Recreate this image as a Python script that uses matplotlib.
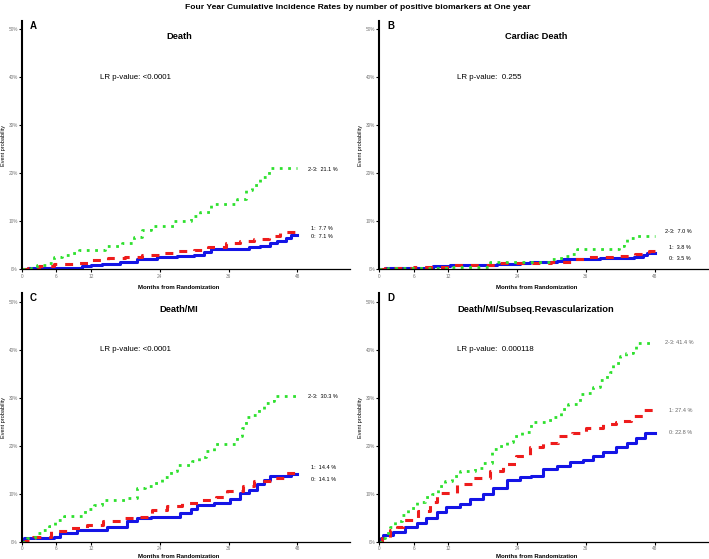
import matplotlib
matplotlib.use("Agg")
import matplotlib.pyplot as plt

plt.rcParams["font.family"] = ["Liberation Sans", "DejaVu Sans"]

BLUE = "#1414E6"
RED = "#EE1C1C"
GREEN = "#2EE02E"

# ---- data (months, cumulative incidence %) ----
death_t0 = [0, 1, 10.4, 12, 14, 17, 20, 23.5, 27, 30, 31.8, 33, 39.6, 41.5, 43.2, 44.4, 46, 46.8, 48]
death_y0 = [0, 0.2, 0.8, 1.0, 1.2, 1.5, 2.2, 2.5, 2.9, 3.1, 3.7, 4.3, 4.6, 4.9, 5.5, 6.0, 6.5, 7.1, 7.1]
death_t1 = [0, 1, 3, 5.5, 9, 12, 15, 18, 21, 24, 26.5, 30, 32.5, 35.5, 38, 40.5, 43, 45, 48]
death_y1 = [0, 0.2, 0.7, 1.1, 1.3, 2.0, 2.4, 2.6, 3.0, 3.4, 3.8, 4.0, 4.6, 5.6, 6.0, 6.4, 6.9, 7.7, 7.7]
death_t23 = [0, 1.5, 2.7, 4.5, 5.5, 7, 8.5, 10, 14.5, 17.5, 19.5, 21, 22.5, 26.5, 29.5, 31, 33,
             37.5, 39, 40, 41.5, 43, 48]
death_y23 = [0, 0.3, 0.9, 1.4, 2.5, 3.0, 3.5, 4.0, 4.9, 5.5, 6.8, 8.3, 9.0, 10.1, 11.1, 12.0, 13.6,
             14.6, 16.5, 17.6, 19.2, 21.1, 21.1]

cardiac_t0 = [0, 1, 9.4, 12.3, 20.5, 24.5, 26.3, 31, 32, 38.5, 44.3, 46, 46.6, 48]
cardiac_y0 = [0, 0.2, 0.75, 0.9, 1.1, 1.4, 1.6, 1.8, 2.1, 2.3, 2.6, 3.0, 3.5, 3.5]
cardiac_t1 = [0, 1, 6, 13, 20.5, 24, 30, 33.5, 36.2, 42, 44.6, 47, 48]
cardiac_y1 = [0, 0.2, 0.5, 0.9, 1.25, 1.4, 1.5, 2.1, 2.6, 2.8, 3.3, 3.8, 3.8]
cardiac_t23 = [0, 1.5, 9, 12.5, 19.3, 29.8, 31, 32.4, 33.3, 34.4, 41.7, 42.6, 43.1, 44.6, 48]
cardiac_y23 = [0, 0.2, 0.4, 0.55, 1.5, 2.1, 2.3, 2.8, 3.3, 4.2, 4.9, 5.8, 6.6, 7.0, 7.0]

dmi_t0 = [0, 0.3, 5.5, 6.7, 9.6, 14.8, 18.3, 20, 22.4, 27.6, 29.4, 30.5, 33.4, 36.3, 38, 39.5, 41,
          42.2, 43.3, 46.8, 48]
dmi_y0 = [0, 0.75, 1.0, 1.8, 2.5, 3.2, 4.3, 5.0, 5.3, 6.0, 6.8, 7.8, 8.2, 8.9, 10.2, 10.9, 12.0,
          12.9, 13.7, 14.1, 14.1]
dmi_t1 = [0, 0.5, 2, 5, 8.4, 11.3, 14.2, 17.4, 20, 22.7, 25.3, 27.9, 30.8, 33.8, 35.8, 38.5, 40.5,
          43.9, 46, 48]
dmi_y1 = [0, 0.3, 1.1, 2.3, 2.9, 3.6, 4.3, 5.0, 5.3, 6.7, 7.4, 8.1, 8.8, 9.4, 10.6, 11.6, 12.8,
          13.3, 14.4, 14.4]
dmi_t23 = [0, 0.9, 2.3, 3.5, 4.7, 5.8, 7.3, 11, 12.5, 14, 18, 20, 21.5, 23, 24.4, 25.9, 27, 29.7,
           30.8, 32, 33.4, 37.5, 38.4, 39, 40.2, 41.3, 42.2, 43.3, 44, 48]
dmi_y23 = [0, 0.8, 1.8, 2.5, 3.4, 4.6, 5.4, 6.8, 7.8, 8.7, 9.2, 11.3, 11.7, 12.3, 13.6, 14.7, 16.1,
           16.8, 17.7, 18.9, 20.5, 22.1, 23.8, 26.1, 26.4, 27.7, 28.9, 29.4, 30.3, 30.3]

revasc_t0 = [0, 0.3, 0.7, 2.4, 4.5, 6.5, 8.2, 10, 11.7, 14, 15.8, 18.1, 19.8, 22.2, 24.5, 26.5,
             28.6, 30.9, 33.2, 35.5, 37.3, 39, 41.3, 43.1, 44.8, 46.3, 48]
revasc_y0 = [0, 0.8, 1.5, 2.0, 3.1, 3.9, 5.0, 6.2, 7.3, 8.0, 9.0, 10.1, 11.3, 13.0, 13.6, 13.8,
             15.1, 15.9, 16.6, 17.1, 18.0, 18.7, 19.7, 20.7, 21.7, 22.8, 22.8]
revasc_t1 = [0, 0.4, 1.9, 3, 4.2, 6.8, 8.8, 10, 13.5, 16.1, 19.3, 21.6, 23.9, 26.2, 28.6, 31.2,
             33.5, 36.1, 39, 41.3, 42, 43.9, 46, 48]
revasc_y1 = [0, 0.8, 2.5, 3.2, 4.6, 6.4, 8.3, 10.2, 12.0, 13.4, 14.8, 16.2, 17.9, 19.7, 20.7, 22.1,
             22.8, 23.8, 24.5, 25.0, 25.2, 26.3, 27.4, 27.4]
revasc_t23 = [0, 0.4, 1, 1.9, 2.7, 3.9, 5, 6.5, 8, 9.1, 10.3, 11.4, 12.6, 14, 16.7, 18.1, 19.6,
              20.7, 22.2, 23.3, 24.8, 26.5, 29, 30.3, 31.7, 32.9, 34.9, 36.4, 37.3, 38.4, 39.6,
              40.2, 40.7, 41.9, 43, 44.2, 44.8, 48]
revasc_y23 = [0, 0.8, 1.8, 3.2, 4.3, 5.7, 7.1, 8.3, 9.4, 10.1, 11.6, 12.7, 13.7, 14.8, 15.5, 16.5,
              19.3, 20.0, 20.8, 22.0, 22.9, 24.9, 25.5, 26.1, 27.7, 28.7, 30.9, 31.1, 32.3, 33.8,
              34.8, 35.5, 37.3, 38.7, 39.3, 40.1, 41.4, 41.4]

panel_letters = ["A", "B", "C", "D"]
panel_titles = ["Death", "Cardiac Death", "Death/MI", "Death/MI/Subseq.Revascularization"]
lr_texts = ["LR p-value: <0.0001", "LR p-value:  0.255", "LR p-value: <0.0001", "LR p-value:  0.000118"]
group_labels = [
    ["0:  7.1 %", "1:  7.7 %", "2-3:  21.1 %"],
    ["0:  3.5 %", "1:  3.8 %", "2-3:  7.0 %"],
    ["0:  14.1 %", "1:  14.4 %", "2-3:  30.3 %"],
    ["0: 22.8 %", "1: 27.4 %", "2-3: 41.4 %"],
]
# label anchor heights (%)
label_y = [[6.9, 8.6, 20.8], [2.3, 4.6, 8.0], [13.0, 15.5, 30.3], [22.8, 27.3, 41.5]]
x_ticks = [0, 6, 12, 24, 36, 48]
y_ticks = [0, 10, 20, 30, 40, 50]

curves = [
    [(death_t0, death_y0), (death_t1, death_y1), (death_t23, death_y23)],
    [(cardiac_t0, cardiac_y0), (cardiac_t1, cardiac_y1), (cardiac_t23, cardiac_y23)],
    [(dmi_t0, dmi_y0), (dmi_t1, dmi_y1), (dmi_t23, dmi_y23)],
    [(revasc_t0, revasc_y0), (revasc_t1, revasc_y1), (revasc_t23, revasc_y23)],
]

fig = plt.figure(figsize=(7.09, 5.59), dpi=100)
positions = [
    (0.031, 0.518, 0.463, 0.445),
    (0.535, 0.518, 0.463, 0.445),
    (0.031, 0.0304, 0.463, 0.445),
    (0.535, 0.0304, 0.463, 0.445),
]
styles = [
    dict(color=BLUE, lw=2.2, linestyle="-"),
    dict(color=RED, lw=2.2, linestyle=(0, (2.6, 2.6))),
    dict(color=GREEN, lw=2.0, linestyle=(0, (1, 2))),
]

for i, pos in enumerate(positions):
    ax = fig.add_axes(pos)
    for (t, y), st in zip(curves[i], styles):
        ax.step(t, y, where="post", **st)
    ax.set_xlim(0, 57.2)
    ax.set_ylim(0, 51.8)
    ax.set_xticks(x_ticks)
    ax.set_yticks(y_ticks)
    ax.set_yticklabels([f"{v}%" for v in y_ticks])
    ax.tick_params(labelsize=3.4, labelcolor="#777777", length=2, width=0.8, pad=1)
    for side in ("top", "right"):
        ax.spines[side].set_visible(False)
    ax.spines["left"].set_linewidth(1.5)
    ax.spines["bottom"].set_linewidth(0.9)
    ax.set_xlabel("Months from Randomization", fontsize=4.3, fontweight="bold")
    # bottom row label is pulled up a touch so it stays inside the canvas
    ax.xaxis.set_label_coords(0.478, -0.063 if i < 2 else -0.047)
    ax.set_ylabel("Event probability", fontsize=4.0)
    ax.yaxis.set_label_coords(-0.05, 0.5)

    ax.text(0.024, 0.979, panel_letters[i], transform=ax.transAxes, fontsize=7,
            fontweight="bold", ha="left", va="center")
    ax.text(0.478, 0.936, panel_titles[i], transform=ax.transAxes, fontsize=6.7,
            fontweight="bold", ha="center", va="center")
    ax.text(13.6, 40.0, lr_texts[i], fontsize=5.7, ha="left", va="center")
    lab_color = "#666666" if i == 3 else "black"
    for k, lab in enumerate(group_labels[i]):
        x0 = 49.8 if k == 2 else 50.4
        ax.text(x0, label_y[i][k], lab, fontsize=4.0, ha="left", va="center", color=lab_color)

fig.suptitle("Four Year Cumulative Incidence Rates by number of positive biomarkers at One year",
             x=0.504, y=0.986, fontsize=6.1, fontweight="bold", va="center")

fig.savefig("out.png", dpi=100)
